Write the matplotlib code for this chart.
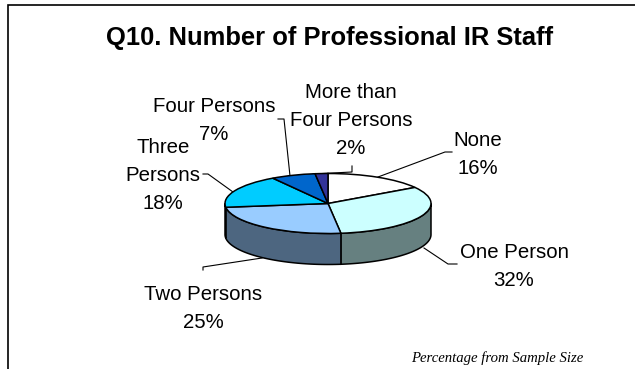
import numpy as np
import matplotlib
matplotlib.use("Agg")
import matplotlib.pyplot as plt
from matplotlib.patches import Polygon

plt.rcParams["font.family"] = "Liberation Sans"

# Survey shares, clockwise from 12 o'clock
categories = ["None", "One Person", "Two Persons", "Three\nPersons", "Four Persons", "More than\nFour Persons"]
shares = [16, 32, 25, 18, 7, 2]
top_colors = ["#FFFFFF", "#CCFFFF", "#99CCFF", "#00CCFF", "#0066CC", "#333399"]
side_colors = ["#808080", "#668080", "#4D6680", "#006680", "#003366", "#1A1A4D"]

W, H = 635, 369
cx, cy = 328, 203.5   # pie centre in pixels
rx, ry = 103, 30      # ellipse radii in pixels
depth = 31            # wall height in pixels

fig = plt.figure(figsize=(W / 100, H / 100), dpi=100)

# Pixel-coordinate axes for the frame, text and leader lines
ax = fig.add_axes([0, 0, 1, 1])
ax.set_xlim(0, W)
ax.set_ylim(H, 0)
ax.axis("off")

# Pie axes share the same rectangle, with y squashed to make the tilt
pie_ax = fig.add_axes([0, 0, 1, 1], zorder=1)
pie_ax.patch.set_visible(False)
pie_ax.pie(shares, colors=top_colors, startangle=90, counterclock=False,
           wedgeprops=dict(edgecolor="black", linewidth=1.1))
pie_ax.set_aspect("auto")
pie_ax.set_xlim(-cx / rx, (W - cx) / rx)
pie_ax.set_ylim((cy - H) / ry, cy / ry)
pie_ax.axis("off")

# Side wall: only the front half (90 to 270 degrees clockwise from top) shows
drop = depth / ry
edges = np.cumsum([0] + shares) / sum(shares) * 360
for i, col in enumerate(side_colors):
    a0 = max(edges[i], 90)
    a1 = min(edges[i + 1], 270)
    if a1 <= a0:
        continue
    t = np.radians(np.linspace(a0, a1, 60))
    x, y = np.sin(t), np.cos(t)
    pts = np.column_stack([np.r_[x, x[::-1]], np.r_[y, y[::-1] - drop]])
    pie_ax.add_patch(Polygon(pts, closed=True, facecolor=col, edgecolor="black",
                             linewidth=1.1, zorder=0))

# Frame: only top and left edges are drawn
ax.plot([8, 8, W], [H, 5, 5], color="black", lw=1.2, solid_joinstyle="miter")

ax.text(330, 38.5, "Q10. Number of Professional IR Staff", ha="center", va="center",
        fontsize=18.4, fontweight="bold")

# Category labels with their leader lines
label_pos = [(478, 154.5), (514, 266), (203, 309), (163, 175.5), (214, 121), (351, 120)]
leaders = [
    [(378, 177), (445, 152), (452, 152)],
    [(424, 248), (448, 264), (457, 264)],
    [(262, 258), (203, 267), (203, 270)],
    [(233, 192), (208, 174), (203, 174)],
    [(290, 176), (284, 119), (278, 119)],
    [(313, 174), (352, 172), (352, 166)],
]
for name, share, pos, line in zip(categories, shares, label_pos, leaders):
    ax.text(pos[0], pos[1], f"{name}\n{share}%", ha="center", va="center",
            fontsize=14.7, linespacing=1.6)
    xs, ys = zip(*line)
    ax.plot(xs, ys, color="black", lw=0.8)

ax.text(497.5, 358, "Percentage from Sample Size", ha="center", va="center",
        fontsize=10.6, family="Liberation Serif", style="italic")

fig.savefig("out.png", dpi=100)
